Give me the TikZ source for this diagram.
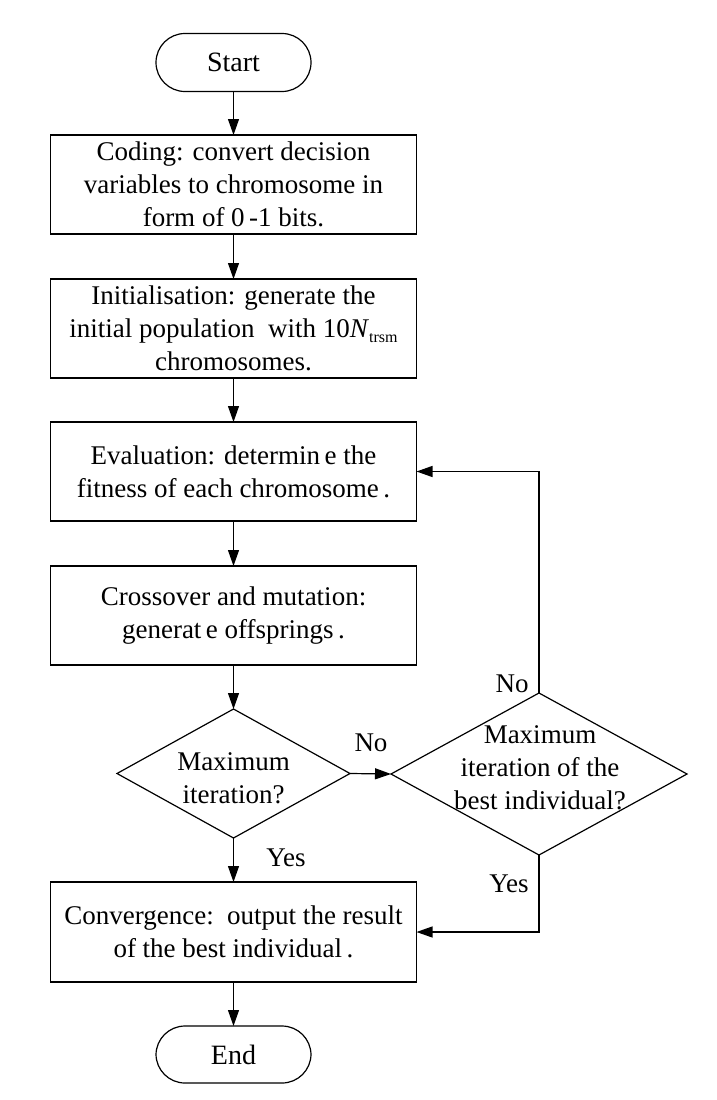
\documentclass[tikz,border=0pt]{standalone}
\usepackage{fontspec}
\setmainfont{Liberation Serif}
\usetikzlibrary{shapes.geometric,arrows.meta}
\newcommand{\mysub}[1]{\raisebox{-5pt}{\fontsize{16}{16}\selectfont #1}}
\begin{document}
\begin{tikzpicture}[x=1pt,y=-1pt,
  every node/.style={font=\fontsize{27}{33}\selectfont, inner sep=0pt, outer sep=0pt},
  proc/.style={draw, line width=1.2pt, minimum width=366pt, minimum height=99pt, align=center},
  term/.style={draw, line width=1.2pt, minimum width=155pt, minimum height=58pt, rounded corners=29pt, font=\fontsize{28}{33}\selectfont},
  dec/.style={draw, diamond, line width=1.2pt},
  txt/.style={align=center},
  arr/.style={line width=1.2pt, -{Triangle[length=16pt,width=11pt]}}
]
\useasboundingbox (0,0) rectangle (717,1100);
\node[term] (start) at (233.5,62.5) {Start};
\node[proc] (coding) at (233.5,184.5) {Coding: convert decision\\variables to chromosome in\\form of 0\,-1 bits.};
\node[proc] (init) at (233.5,328.5) {Initialisation: generate the\\initial population\ \ with 10\textit{N}\mysub{trsm}\\chromosomes.};
\node[proc] (eval) at (233.5,471.5) {Evaluation: determin\,e the\\fitness of each chromosome\,.};
\node[proc] (cross) at (233.5,615.5) {Crossover and mutation:\\generat\,e offsprings\,.};
\node[dec, minimum width=233pt, minimum height=129pt] (d1) at (233.5,773.5) {};
\node[txt] (d1t) at (233.5,778) {Maximum\\iteration?};
\node[dec, minimum width=296pt, minimum height=162pt] (d2) at (539,774) {};
\node[txt] (d2t) at (540,768) {Maximum\\iteration of\ the\\best individual?};
\node[proc, minimum height=100pt] (conv) at (233.5,932) {Convergence:\ \ output the result\\of the best individual\,.};
\node[term, minimum height=57pt] (end) at (233.5,1054.5) {End};
\node (no1) at (371,743) {No};
\node (no2) at (512,684) {No};
\node (yes1) at (286,858) {Yes};
\node (yes2) at (509,884) {Yes};
\draw[arr] (start) -- (coding);
\draw[arr] (coding) -- (init);
\draw[arr] (init) -- (eval);
\draw[arr] (eval) -- (cross);
\draw[arr] (cross) -- (d1.north);
\draw[arr] (d1.east) -- (d2.west);
\draw[arr] (d1.south) -- (conv);
\draw[arr] (d2.north) |- (eval.east);
\draw[arr] (d2.south) |- (conv.east);
\draw[arr] (conv) -- (end);
\end{tikzpicture}
\end{document}
